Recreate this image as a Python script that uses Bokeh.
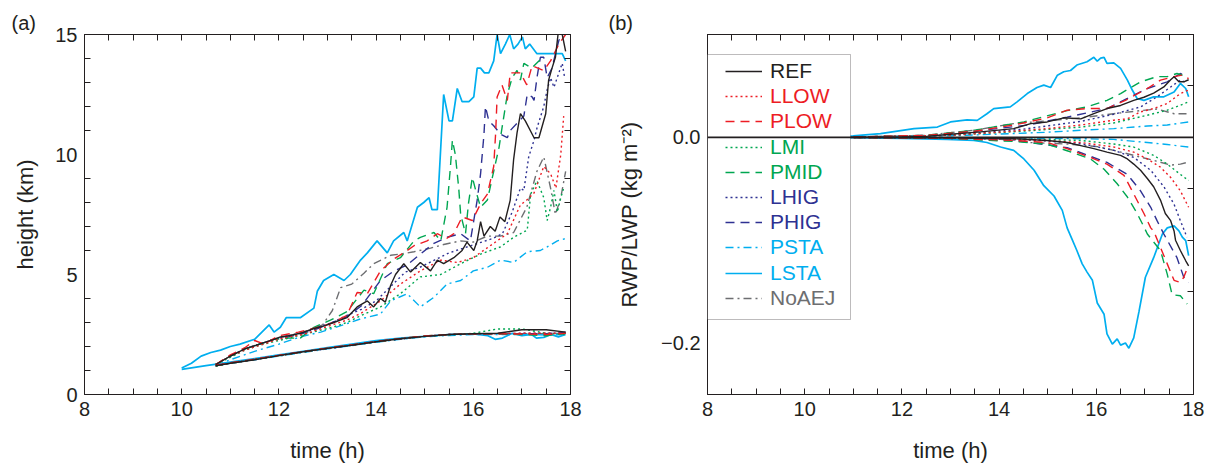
from bokeh.plotting import figure
from bokeh.layouts import row
from bokeh.models import (FixedTicker, LinearAxis, Range1d, Legend, LegendItem, Title,
                          Span, BoxAnnotation, CustomJSTickFormatter)
from bokeh.embed import file_html
from bokeh.resources import INLINE

# ---------------- data : panel (a) cloud top / base height (km) ----------------
REF_top_t = [10.7, 11.0, 11.3, 11.6, 11.9, 12.03, 12.2, 12.44, 12.72, 12.92, 13.13, 13.4, 13.61, 13.82, 13.95,
             14.09, 14.19, 14.3, 14.4, 14.57, 14.71, 14.91, 15.12, 15.26, 15.39, 15.6, 15.77, 15.87, 16.01, 16.08,
             16.15, 16.22, 16.35, 16.45, 16.55, 16.65, 16.76, 16.83, 16.9, 16.97, 17.07, 17.25, 17.35, 17.49, 17.55,
             17.62, 17.69, 17.76, 17.83, 17.9]
REF_top_h = [1.25, 1.6, 1.9, 2.1, 2.3, 2.4, 2.45, 2.55, 2.75, 2.85, 3.0, 3.2, 3.65, 3.9, 3.65,
             4.0, 3.85, 4.55, 5.0, 5.45, 5.1, 5.5, 5.15, 5.6, 5.45, 5.7, 6.0, 6.35, 6.0, 6.4,
             7.2, 6.6, 7.0, 6.8, 7.4, 7.2, 8.1, 9.8, 10.9, 11.7, 11.4, 10.7, 10.7, 11.7, 13.1,
             13.6, 14.05, 15.3, 15.0, 14.3]
LLOW_top_t = [10.7, 11.0, 11.3, 11.6, 11.9, 12.2, 12.5, 12.8, 13.1, 13.4, 13.7, 14.09, 14.5, 14.91, 15.33,
              15.67, 16.0, 16.42, 16.7, 16.97, 17.1, 17.25, 17.45, 17.59, 17.7, 17.8, 17.86]
LLOW_top_h = [1.25, 1.6, 1.85, 2.05, 2.25, 2.4, 2.5, 2.7, 2.9, 3.1, 3.4, 3.9, 4.6, 5.15, 5.6,
              5.5, 5.7, 6.3, 6.7, 7.9, 8.1, 8.4, 9.5, 9.2, 8.6, 10.0, 11.6]
PLOW_top_t = [10.7, 11.0, 11.3, 11.5, 11.7, 12.0, 12.4, 12.8, 13.06, 13.4, 13.61, 13.82, 14.09, 14.37, 14.64,
              14.78, 15.05, 15.26, 15.45, 15.6, 15.77, 15.98, 16.15, 16.29, 16.42, 16.46, 16.49, 16.59, 16.7, 16.76,
              16.97, 17.1, 17.21, 17.45, 17.59, 17.76, 17.9]
PLOW_top_h = [1.25, 1.65, 1.95, 2.25, 2.1, 2.45, 2.6, 2.8, 2.95, 3.3, 4.25, 4.2, 5.15, 5.65, 6.0,
              6.2, 6.4, 6.7, 6.5, 6.7, 7.4, 7.25, 7.95, 8.35, 9.5, 10.9, 12.4, 12.9, 12.25, 13.4,
              13.4, 12.9, 13.7, 13.5, 13.9, 14.6, 15.0]
LMI_top_t = [10.7, 11.0, 11.3, 11.6, 11.9, 12.2, 12.5, 12.8, 13.1, 13.4, 13.7, 14.09, 14.5, 14.91, 15.33,
             15.74, 16.15, 16.56, 16.83, 17.11, 17.18, 17.31, 17.45, 17.52, 17.59, 17.66, 17.73, 17.8, 17.86]
LMI_top_h = [1.25, 1.55, 1.85, 2.05, 2.2, 2.35, 2.5, 2.65, 2.8, 3.0, 3.3, 3.65, 4.2, 4.9, 5.0,
             5.45, 5.85, 6.15, 6.55, 6.85, 8.35, 8.9, 8.2, 7.25, 7.8, 8.5, 7.6, 8.2, 8.6]
PMID_top_t = [10.7, 11.0, 11.3, 11.6, 11.9, 12.2, 12.44, 12.72, 13.06, 13.4, 13.75, 13.95, 14.23, 14.5, 14.78,
              14.91, 15.19, 15.33, 15.46, 15.53, 15.57, 15.63, 15.7, 15.74, 15.84, 15.9, 15.98, 16.05, 16.15, 16.29,
              16.42, 16.53, 16.59, 16.7, 16.8, 16.9, 16.97, 17.04, 17.2, 17.4]
PMID_top_h = [1.25, 1.6, 1.9, 2.1, 2.3, 2.35, 2.35, 2.8, 3.1, 3.45, 4.35, 4.2, 5.45, 5.7, 6.4,
              6.55, 6.75, 6.4, 7.8, 9.5, 10.6, 10.0, 8.6, 7.5, 6.7, 7.95, 9.05, 8.5, 7.8, 8.1,
              9.3, 10.3, 11.1, 12.5, 13.2, 13.5, 13.1, 13.8, 13.6, 14.0]
LHIG_top_t = [10.7, 11.0, 11.3, 11.6, 11.9, 12.2, 12.5, 12.8, 13.1, 13.4, 13.7, 14.0, 14.3, 14.6, 14.9,
              15.2, 15.5, 15.8, 16.1, 16.4, 16.6, 16.8, 16.97, 17.04, 17.14, 17.25, 17.31, 17.45, 17.52, 17.59,
              17.66, 17.76, 17.83, 17.88]
LHIG_top_h = [1.25, 1.6, 1.9, 2.1, 2.3, 2.45, 2.55, 2.8, 3.0, 3.3, 3.55, 3.9, 4.5, 5.1, 5.3,
              5.6, 5.9, 6.1, 6.3, 6.5, 6.7, 7.6, 8.6, 8.5, 9.9, 10.6, 11.1, 12.0, 12.7, 13.2,
              12.8, 13.4, 13.8, 13.2]
PHIG_top_t = [10.7, 11.0, 11.3, 11.6, 11.9, 12.2, 12.5, 12.8, 13.1, 13.4, 13.7, 14.09, 14.37, 14.64, 14.91,
              15.19, 15.46, 15.74, 15.94, 16.08, 16.15, 16.22, 16.25, 16.32, 16.42, 16.56, 16.7, 16.76, 17.04, 17.11,
              17.21, 17.25, 17.31, 17.38, 17.45, 17.52, 17.62, 17.69, 17.76, 17.83]
PHIG_top_h = [1.25, 1.6, 1.9, 2.1, 2.3, 2.4, 2.55, 2.75, 3.0, 3.25, 3.7, 4.75, 5.15, 5.4, 5.85,
              6.3, 6.55, 6.7, 6.4, 8.1, 9.2, 10.85, 12.0, 11.4, 11.2, 10.85, 10.7, 11.0, 11.6, 12.5,
              12.4, 12.25, 13.2, 14.05, 14.05, 13.2, 13.6, 14.2, 14.75, 15.0]
PSTA_top_t = [10.7, 11.0, 11.5, 12.0, 12.44, 12.86, 13.4, 13.68, 14.09, 14.3, 14.64, 14.91, 15.19, 15.46, 15.74,
              16.0, 16.29, 16.56, 16.83, 17.11, 17.38, 17.52, 17.73, 17.9]
PSTA_top_h = [1.2, 1.45, 1.8, 2.1, 2.4, 2.6, 2.95, 3.15, 3.35, 3.9, 4.2, 3.65, 4.05, 4.6, 4.75,
              5.15, 5.3, 5.6, 5.5, 5.95, 6.0, 6.15, 6.4, 6.5]
LSTA_top_t = [10.0, 10.2, 10.4, 10.6, 10.8, 11.0, 11.2, 11.5, 11.65, 11.8, 11.9, 12.03, 12.15, 12.44, 12.72,
              12.79, 12.92, 13.13, 13.34, 13.47, 13.68, 13.82, 14.02, 14.23, 14.36, 14.57, 14.64, 14.85, 14.98, 15.09,
              15.15, 15.26, 15.39, 15.5, 15.57, 15.67, 15.77, 15.91, 16.01, 16.08, 16.15, 16.23, 16.32, 16.42, 16.49,
              16.56, 16.66, 16.75, 16.83, 16.92, 17.01, 17.07, 17.16, 17.31, 17.83, 17.9]
LSTA_top_h = [1.1, 1.3, 1.6, 1.75, 1.85, 2.0, 2.1, 2.3, 2.6, 2.9, 2.6, 2.8, 3.2, 3.2, 3.6,
              4.3, 4.75, 5.0, 4.75, 5.0, 5.6, 5.9, 6.4, 5.9, 6.4, 6.75, 6.4, 7.8, 8.0, 8.2,
              7.7, 7.7, 12.5, 11.4, 11.4, 12.75, 12.2, 12.2, 12.4, 13.6, 13.6, 13.4, 13.4, 13.9, 15.0,
              14.2, 14.6, 15.0, 14.4, 14.6, 14.9, 14.4, 14.6, 14.2, 14.2, 13.9]
NoAEJ_top_t = [10.7, 11.0, 11.3, 11.6, 11.9, 12.2, 12.5, 12.9, 13.1, 13.27, 13.5, 13.75, 13.95, 14.3, 14.5,
               14.78, 15.12, 15.39, 15.74, 16.0, 16.29, 16.56, 16.83, 17.1, 17.31, 17.45, 17.59, 17.69, 17.8, 17.9]
NoAEJ_top_h = [1.25, 1.6, 1.9, 2.1, 2.3, 2.45, 2.6, 2.9, 3.5, 4.45, 4.6, 5.05, 5.45, 5.8, 5.85,
               5.95, 6.1, 6.25, 6.4, 6.35, 6.6, 6.6, 6.75, 7.8, 9.3, 9.9, 8.6, 7.5, 8.2, 9.3]

base_t = [10.7, 11.0, 11.5, 12.0, 12.5, 13.0, 13.5, 14.0, 14.5, 15.0, 15.5, 16.0, 16.5, 17.0, 17.5, 17.9]
REF_base = [1.2, 1.3, 1.45, 1.62, 1.78, 1.92, 2.05, 2.2, 2.32, 2.42, 2.5, 2.53, 2.55, 2.7, 2.7, 2.6]
LLOW_base = [1.2, 1.3, 1.47, 1.63, 1.78, 1.93, 2.06, 2.2, 2.33, 2.43, 2.5, 2.52, 2.54, 2.55, 2.55, 2.55]
PLOW_base = [1.22, 1.32, 1.47, 1.63, 1.79, 1.93, 2.07, 2.21, 2.33, 2.44, 2.5, 2.53, 2.53, 2.52, 2.5, 2.55]
LMI_base = [1.18, 1.3, 1.46, 1.62, 1.77, 1.92, 2.05, 2.19, 2.32, 2.42, 2.48, 2.55, 2.73, 2.73, 2.55, 2.5]
PMID_base = [1.2, 1.31, 1.46, 1.62, 1.78, 1.93, 2.06, 2.2, 2.33, 2.44, 2.5, 2.53, 2.53, 2.5, 2.45, 2.55]
LHIG_base = [1.2, 1.3, 1.45, 1.62, 1.77, 1.91, 2.05, 2.2, 2.31, 2.42, 2.5, 2.52, 2.54, 2.55, 2.55, 2.55]
PHIG_base = [1.2, 1.31, 1.46, 1.63, 1.78, 1.92, 2.06, 2.2, 2.32, 2.43, 2.5, 2.53, 2.53, 2.53, 2.53, 2.6]
PSTA_base = [1.2, 1.3, 1.45, 1.6, 1.75, 1.9, 2.04, 2.18, 2.3, 2.4, 2.46, 2.5, 2.5, 2.5, 2.48, 2.5]
NoAEJ_base = [1.2, 1.3, 1.46, 1.62, 1.78, 1.92, 2.06, 2.2, 2.32, 2.42, 2.5, 2.52, 2.53, 2.53, 2.53, 2.55]
LSTA_base_t = [10.0, 10.5, 11.0, 11.5, 12.0, 12.5, 13.0, 13.5, 14.0, 14.5, 15.0, 15.5, 16.0, 16.3, 16.45,
               16.6, 16.8, 17.0, 17.2, 17.3, 17.45, 17.6, 17.75, 17.9]
LSTA_base = [1.05, 1.2, 1.35, 1.5, 1.65, 1.8, 1.95, 2.1, 2.25, 2.35, 2.42, 2.5, 2.52, 2.45, 2.3,
             2.35, 2.55, 2.45, 2.5, 2.35, 2.38, 2.5, 2.4, 2.5]

# ---------------- data : panel (b) RWP / LWP (kg m-2) ----------------
REF_pos_t = [10.7, 12.0, 12.5, 13.0, 13.62, 14.3, 14.65, 14.99, 15.33, 15.68, 15.95, 16.22, 16.5, 16.77, 16.98,
             17.18, 17.39, 17.53, 17.6, 17.7, 17.8, 17.9]
REF_pos = [0.0, 0.0005, 0.001, 0.003, 0.0053, 0.0085, 0.0134, 0.015, 0.019, 0.018, 0.023, 0.028, 0.031, 0.036, 0.039,
           0.043, 0.049, 0.056, 0.059, 0.054, 0.054, 0.056]
REF_neg_t = [10.7, 13.0, 14.3, 14.99, 15.4, 15.68, 15.95, 16.22, 16.5, 16.64, 16.77, 16.91, 17.05, 17.18, 17.32,
             17.42, 17.53, 17.6, 17.63, 17.73, 17.84, 17.9]
REF_neg = [0.0, -0.0005, -0.0013, -0.003, -0.005, -0.008, -0.011, -0.0143, -0.0175, -0.021, -0.026, -0.032, -0.040,
           -0.048, -0.061, -0.074, -0.081, -0.091, -0.100, -0.110, -0.120, -0.125]
LLOW_pos_t = [10.7, 13.0, 14.0, 14.99, 15.68, 16.36, 16.64, 16.91, 17.18, 17.46, 17.73, 17.9]
LLOW_pos = [0.0, 0.002, 0.005, 0.0085, 0.012, 0.0167, 0.018, 0.0248, 0.028, 0.033, 0.0426, 0.046]
LLOW_neg_t = [10.7, 13.0, 14.5, 15.68, 16.36, 16.77, 17.05, 17.32, 17.53, 17.73, 17.9]
LLOW_neg = [0.0, -0.0005, -0.002, -0.005, -0.0094, -0.0143, -0.021, -0.029, -0.039, -0.052, -0.068]
PLOW_pos_t = [10.7, 12.5, 13.5, 14.3, 14.99, 15.4, 15.81, 16.22, 16.6, 17.05, 17.32, 17.6, 17.77, 17.9]
PLOW_pos = [0.0, 0.002, 0.006, 0.012, 0.019, 0.0264, 0.028, 0.028, 0.036, 0.0475, 0.0557, 0.059, 0.0605, 0.057]
PLOW_neg_t = [10.7, 13.0, 14.3, 14.99, 15.4, 15.88, 16.22, 16.57, 16.77, 16.98, 17.12, 17.18, 17.32, 17.46, 17.6,
              17.73, 17.8, 17.85]
PLOW_neg = [0.0, -0.001, -0.003, -0.005, -0.011, -0.0195, -0.026, -0.037, -0.055, -0.074, -0.088, -0.091, -0.107,
            -0.123, -0.139, -0.141, -0.136, -0.13]
LMI_pos_t = [10.7, 13.0, 14.5, 15.68, 16.36, 17.05, 17.46, 17.73, 17.9]
LMI_pos = [0.0, 0.002, 0.006, 0.01, 0.014, 0.0215, 0.0264, 0.0313, 0.0345]
LMI_neg_t = [10.7, 14.0, 15.68, 16.36, 16.77, 17.18, 17.46, 17.73, 17.9]
LMI_neg = [0.0, -0.001, -0.003, -0.0065, -0.0094, -0.0175, -0.026, -0.036, -0.042]
PMID_pos_t = [10.7, 12.5, 13.5, 14.51, 15.4, 15.81, 16.22, 16.5, 16.91, 17.25, 17.46, 17.66, 17.8]
PMID_pos = [0.0, 0.002, 0.007, 0.015, 0.026, 0.0296, 0.036, 0.0426, 0.054, 0.059, 0.059, 0.0621, 0.06]
PMID_neg_t = [10.7, 13.0, 14.3, 14.99, 15.4, 15.88, 16.16, 16.43, 16.64, 16.84, 16.98, 17.05, 17.32, 17.46, 17.56,
              17.73, 17.87]
PMID_neg = [0.0, -0.001, -0.004, -0.0065, -0.013, -0.021, -0.031, -0.0451, -0.058, -0.074, -0.087, -0.094, -0.110,
            -0.133, -0.153, -0.154, -0.162]
LHIG_pos_t = [10.7, 13.0, 14.5, 15.68, 16.36, 16.91, 17.25, 17.53, 17.73, 17.87]
LHIG_pos = [0.0, 0.002, 0.008, 0.0155, 0.0225, 0.0296, 0.0394, 0.049, 0.0557, 0.053]
LHIG_neg_t = [10.7, 13.5, 14.8, 15.68, 16.36, 16.77, 17.12, 17.39, 17.6, 17.73, 17.84, 17.87]
LHIG_neg = [0.0, -0.001, -0.003, -0.006, -0.0126, -0.0195, -0.032, -0.048, -0.065, -0.081, -0.094, -0.097]
PHIG_pos_t = [10.7, 12.5, 13.5, 14.6, 15.4, 16.22, 16.64, 17.05, 17.46, 17.73, 17.85]
PHIG_pos = [0.0, 0.002, 0.006, 0.012, 0.0197, 0.028, 0.0378, 0.0475, 0.054, 0.0621, 0.059]
PHIG_neg_t = [10.7, 13.0, 14.3, 15.4, 16.22, 16.64, 16.91, 17.12, 17.25, 17.39, 17.46, 17.66, 17.8, 17.9]
PHIG_neg = [0.0, -0.001, -0.003, -0.01, -0.0244, -0.036, -0.052, -0.068, -0.081, -0.094, -0.100, -0.117, -0.136, -0.141]
PSTA_pos_t = [10.7, 13.0, 14.3, 15.0, 15.68, 16.36, 17.05, 17.46, 17.9]
PSTA_pos = [0.0, 0.0015, 0.0037, 0.005, 0.0069, 0.0085, 0.011, 0.012, 0.015]
PSTA_neg_t = [10.7, 14.0, 15.68, 16.36, 17.05, 17.46, 17.9]
PSTA_neg = [0.0, -0.0005, -0.0013, -0.002, -0.005, -0.007, -0.0094]
LSTA_pos_t = [10.0, 10.5, 11.0, 11.56, 12.25, 12.73, 13.0, 13.34, 13.55, 13.75, 13.89, 14.23, 14.37, 14.58, 14.78,
              14.92, 15.06, 15.2, 15.33, 15.47, 15.6, 15.81, 15.95, 16.02, 16.09, 16.16, 16.22, 16.36, 16.5, 16.64,
              16.74, 16.84, 16.98, 17.18, 17.39, 17.6, 17.73, 17.84, 17.9]
LSTA_pos = [0.0, 0.0005, 0.0015, 0.0036, 0.0085, 0.010, 0.015, 0.017, 0.0165, 0.023, 0.028, 0.0296, 0.0345, 0.0426,
            0.0485, 0.0508, 0.0485, 0.0605, 0.0638, 0.065, 0.0703, 0.0735, 0.0778, 0.074, 0.077, 0.0778, 0.072,
            0.0725, 0.067, 0.0557, 0.046, 0.0378, 0.036, 0.0394, 0.0394, 0.044, 0.0524, 0.0475, 0.0394]
LSTA_neg_t = [10.0, 11.0, 12.0, 12.93, 13.48, 13.75, 14.03, 14.3, 14.51, 14.72, 14.92, 15.13, 15.3, 15.4, 15.5,
              15.6, 15.71, 15.81, 15.92, 16.02, 16.16, 16.22, 16.33, 16.43, 16.5, 16.6, 16.67, 16.77, 16.88, 17.01,
              17.18, 17.36, 17.46, 17.6, 17.7, 17.77, 17.84, 17.9]
LSTA_neg = [0.0, -0.0003, -0.001, -0.002, -0.003, -0.005, -0.0094, -0.0126, -0.021, -0.032, -0.047, -0.057, -0.071,
            -0.088, -0.099, -0.110, -0.123, -0.131, -0.139, -0.161, -0.172, -0.191, -0.201, -0.196, -0.202, -0.200,
            -0.205, -0.195, -0.169, -0.136, -0.117, -0.094, -0.088, -0.086, -0.091, -0.097, -0.1004, -0.115]
NoAEJ_pos_t = [10.7, 12.5, 13.5, 14.3, 14.99, 15.68, 16.36, 16.91, 17.25, 17.6, 17.9]
NoAEJ_pos = [0.0, 0.002, 0.007, 0.0134, 0.016, 0.019, 0.023, 0.026, 0.0275, 0.023, 0.023]
NoAEJ_neg_t = [10.7, 13.5, 14.3, 14.65, 15.4, 16.02, 16.36, 16.77, 17.18, 17.53, 17.73, 17.9]
NoAEJ_neg = [0.0, -0.001, -0.0025, -0.005, -0.0065, -0.009, -0.0126, -0.0175, -0.0224, -0.027, -0.026, -0.024]

# ---------------- ticks ----------------
x_major = [8, 10, 12, 14, 16, 18]
x_minor = [8.5, 9, 9.5, 10.5, 11, 11.5, 12.5, 13, 13.5, 14.5, 15, 15.5, 16.5, 17, 17.5]
ya_major = [0, 5, 10, 15]
ya_minor = [1, 2, 3, 4, 6, 7, 8, 9, 11, 12, 13, 14]
yb_major = [-0.2, 0.0]
yb_minor = [-0.25, -0.15, -0.1, -0.05, 0.05, 0.1]

# ---------------- styles ----------------
NAMES = ["REF", "LLOW", "PLOW", "LMI", "PMID", "LHIG", "PHIG", "PSTA", "LSTA", "NoAEJ"]
BLACK, RED, GREEN, BLUE, CYAN, GRAY = "#231f20", "#ed1c24", "#00a651", "#2e3192", "#00aeef", "#6d6e71"
COLOR = {"REF": BLACK, "LLOW": RED, "PLOW": RED, "LMI": GREEN, "PMID": GREEN, "LHIG": BLUE,
         "PHIG": BLUE, "PSTA": CYAN, "LSTA": CYAN, "NoAEJ": GRAY}
DOT, DASH, DASHDOT = "2 3", "9 6", "8 4 2 4"
DASHES = {"REF": "solid", "LLOW": DOT, "PLOW": DASH, "LMI": DOT, "PMID": DASH, "LHIG": DOT,
          "PHIG": DASH, "PSTA": DASHDOT, "LSTA": "solid", "NoAEJ": DASHDOT}
WIDTH = {n: 1.4 for n in NAMES}
WIDTH["LSTA"] = 1.7

FONT = "Liberation Sans"
TXT = "#231f20"

G = globals()


def style_axis(ax, ticker, label=None, fmt=None, major_in=6, show_labels=True):
    ax.ticker = ticker
    ax.axis_line_color = TXT
    ax.axis_line_width = 1
    ax.major_tick_in = major_in
    ax.major_tick_out = 0
    ax.minor_tick_in = 6
    ax.minor_tick_out = 0
    ax.major_tick_line_color = TXT
    ax.minor_tick_line_color = TXT
    ax.major_label_text_font = FONT
    ax.major_label_text_font_size = "20px"
    ax.major_label_text_color = TXT
    ax.major_label_standoff = 7
    if fmt is not None:
        ax.formatter = fmt
    if not show_labels:
        ax.formatter = CustomJSTickFormatter(code="return '';")
        ax.major_label_standoff = 0
        ax.major_label_text_font_size = "1px"
    if label is not None:
        ax.axis_label = label
        ax.axis_label_text_font = FONT
        ax.axis_label_text_font_size = "22px"
        ax.axis_label_text_font_style = "normal"
        ax.axis_label_text_color = TXT


def make_fig(yr, border_left, border_right, yt_major, yt_minor, ylabel, ylab_standoff, panel, panel_off, yfmt=None):
    p = figure(frame_width=486, frame_height=360, x_range=Range1d(8, 18), y_range=yr,
               output_backend="svg", toolbar_location=None,
               min_border_left=border_left, min_border_right=border_right,
               min_border_top=34, min_border_bottom=68)
    p.xgrid.visible = False
    p.ygrid.visible = False
    p.outline_line_color = TXT
    p.background_fill_color = "white"
    p.border_fill_color = "white"
    xt = FixedTicker(ticks=x_major, minor_ticks=x_minor)
    yt = FixedTicker(ticks=yt_major, minor_ticks=yt_minor)
    style_axis(p.xaxis[0], xt, label="time (h)")
    p.xaxis[0].axis_label_standoff = 19
    style_axis(p.yaxis[0], yt, label=ylabel, fmt=yfmt, major_in=0)
    p.yaxis[0].axis_label_standoff = ylab_standoff
    top = LinearAxis()
    style_axis(top, FixedTicker(ticks=x_major, minor_ticks=x_minor), show_labels=False)
    p.add_layout(top, "above")
    right = LinearAxis()
    style_axis(right, FixedTicker(ticks=yt_major, minor_ticks=yt_minor), show_labels=False, major_in=0)
    p.add_layout(right, "right")
    p.add_layout(Title(text=panel, align="left", offset=panel_off, standoff=2, text_font=FONT,
                       text_font_size="20px", text_font_style="normal", text_color=TXT), "above")
    return p


# ---------------- panel (a) ----------------
pa = make_fig(Range1d(0, 15), 84, 30, ya_major, ya_minor, "height (km)", 14, "(a)", -73)
for n in reversed(NAMES):
    tt = G[n + "_top_t"]
    bt = G["LSTA_base_t"] if n == "LSTA" else base_t
    pa.line(tt, G[n + "_top_h"], line_color=COLOR[n], line_width=WIDTH[n], line_dash=DASHES[n])
    pa.line(bt, G[n + "_base"], line_color=COLOR[n], line_width=WIDTH[n], line_dash=DASHES[n])

# ---------------- panel (b) ----------------
yfmt = CustomJSTickFormatter(code="return (tick < -1e-9 ? '\u2212' : '') + Math.abs(tick).toFixed(1);")
pb = make_fig(Range1d(-0.25, 0.1), 107, 11, yb_major, yb_minor, "RWP/LWP (kg m\u207b\u00b2)", 16, "(b)", -99,
              yfmt=yfmt)
rends = {}
for n in reversed(NAMES):
    r = pb.line(G[n + "_pos_t"], G[n + "_pos"], line_color=COLOR[n], line_width=WIDTH[n], line_dash=DASHES[n])
    pb.line(G[n + "_neg_t"], G[n + "_neg"], line_color=COLOR[n], line_width=WIDTH[n], line_dash=DASHES[n])
    rends[n] = r

pb.add_layout(BoxAnnotation(left=0, right=143, bottom=75, top=340, left_units="screen", right_units="screen",
                            top_units="screen", bottom_units="screen", fill_color="white", fill_alpha=1.0,
                            line_color=TXT, line_width=1))
pb.add_layout(Span(location=0, dimension="width", line_color=TXT, line_width=1.6))

for i, n in enumerate(NAMES):
    lg = Legend(items=[LegendItem(label=n, renderers=[rends[n]])], location=(18, 311 - 25.2 * i),
                padding=0, margin=0, border_line_alpha=0, background_fill_alpha=0,
                glyph_width=37, glyph_height=24, label_height=24, label_standoff=8,
                label_text_font=FONT, label_text_font_size="21px", label_text_color=COLOR[n])
    pb.add_layout(lg)

layout = row(pa, pb)
open("out.html", "w").write(file_html(layout, INLINE))
